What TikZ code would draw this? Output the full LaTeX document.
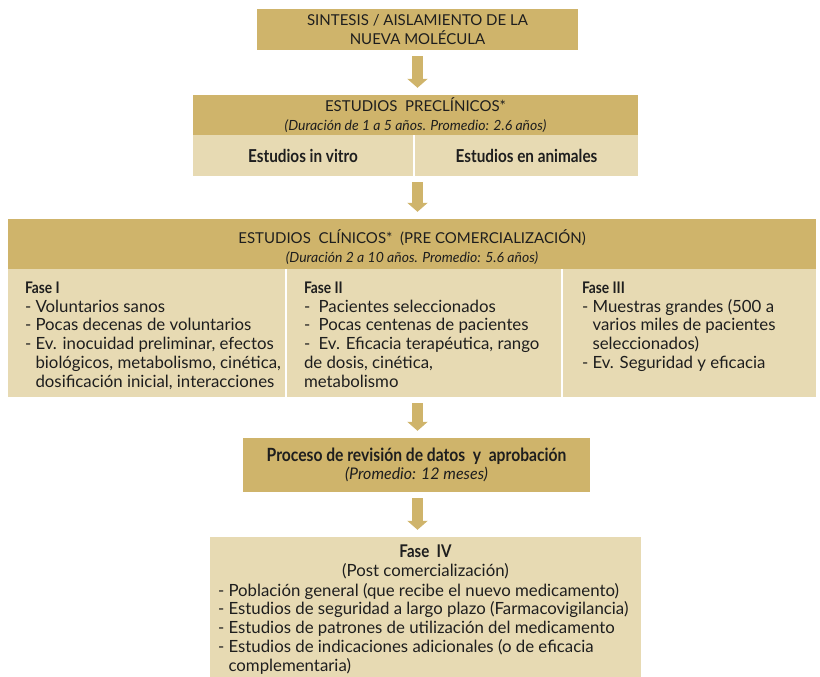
\documentclass[tikz,border=0pt]{standalone}
\usepackage{fontspec}
\setmainfont{Lato}
\newfontfamily\narrowfont[FakeStretch=0.86]{Lato}
\usetikzlibrary{arrows.meta}

\definecolor{gold}{HTML}{CFB46B}
\definecolor{sand}{HTML}{E7DAB3}
\definecolor{ink}{HTML}{1E1E1E}

\newcommand{\bodyfont}{\fontsize{16.8}{18.7}\selectfont}
\newcommand{\capsfont}{\fontsize{15}{18.5}\selectfont}
\newcommand{\smallit}{\fontsize{14}{19}\selectfont\itshape}
\newcommand{\headbf}{\fontsize{16}{18.7}\selectfont\narrowfont\bfseries}

\begin{document}
\begin{tikzpicture}[x=1pt, y=-1pt]
        \tikzstyle{dark}=[fill=gold, text=ink, inner sep=0pt, align=center, font=\capsfont]
        \tikzstyle{light}=[fill=sand, text=ink, inner sep=0pt, align=center]
        \tikzstyle{txt}=[text=ink, inner sep=0pt, align=left, anchor=north west, font=\bodyfont]
        \tikzstyle{down}=[draw=gold, line width=11pt, -{Triangle[width=20pt,length=9pt]}, shorten <=6pt, shorten >=7pt]

        \useasboundingbox (0,0) rectangle (820,677);

        % molecula
        \node[dark, minimum width=321pt, minimum height=41pt] (S_1) at (417.5,29.5) {SINTESIS / AISLAMIENTO DE LA\\NUEVA MOLÉCULA};

        % preclinicos
        \node[dark, minimum width=445pt, minimum height=40pt] (P_head) at (415.5,115) {ESTUDIOS~~PRECLÍNICOS*\\\smallit (Duración de 1 a 5 años. Promedio: 2.6 años)};
        \node[light, minimum width=220pt, minimum height=41pt, font=\headbf\fontsize{17.8}{20}\selectfont] (P_vitro) at (303,155.5) {Estudios in vitro};
        \node[light, minimum width=223pt, minimum height=41pt, font=\headbf\fontsize{17.8}{20}\selectfont] (P_anim) at (526.5,155.5) {Estudios en animales};

        % clinicos
        \node[dark, minimum width=808pt, minimum height=50pt] (C_head) at (412,244) {\rule{0pt}{20pt}ESTUDIOS~~CLÍNICOS*~~(PRE COMERCIALIZACIÓN)\\\smallit (Duración 2 a 10 años. Promedio: 5.6 años)};
        \node[light, minimum width=277pt, minimum height=128pt] (C_f1) at (146.5,333) {};
        \node[light, minimum width=274pt, minimum height=128pt] (C_f2) at (424,333) {};
        \node[light, minimum width=253pt, minimum height=128pt] (C_f3) at (689.5,333) {};
        \node[txt] (C_t1) at ([xshift=17pt,yshift=-13pt]C_f1.north west) {{\headbf Fase I}\\- Voluntarios sanos\\- Pocas decenas de voluntarios\\- Ev. inocuidad preliminar, efectos\\\phantom{- }biológicos, metabolismo, cinética,\\\phantom{- }dosificación inicial, interacciones};
        \node[txt] (C_t2) at ([xshift=17pt,yshift=-13pt]C_f2.north west) {{\headbf Fase II}\\-\enspace Pacientes seleccionados\\-\enspace Pocas centenas de pacientes\\-\enspace Ev. Eficacia terapéutica, rango\\de dosis, cinética,\\metabolismo};
        \node[txt] (C_t3) at ([xshift=19pt,yshift=-13pt]C_f3.north west) {{\headbf Fase III}\\- Muestras grandes (500 a\\\phantom{- }varios miles de pacientes\\\phantom{- }seleccionados)\\- Ev. Seguridad y eficacia};

        % revision
        \node[dark, minimum width=347pt, minimum height=54pt] (R_1) at (416.5,465) {\headbf\fontsize{18.2}{18.6}\selectfont Proceso de revisión de datos~~y~~aprobación\\\fontsize{16}{24}\selectfont\itshape (Promedio: 12 meses)};

        % fase IV
        \node[light, minimum width=431pt, minimum height=140pt] (F_4) at (425.5,607) {};
        \node[text=ink, inner sep=0pt, align=center, anchor=north, font=\bodyfont] (F_title) at ([yshift=-8pt]F_4.north) {{\headbf\fontsize{17.5}{18.7}\selectfont Fase~~IV}\\(Post comercialización)};
        \node[txt, font=\fontsize{16.8}{18.9}\selectfont] (F_list) at ([xshift=8pt,yshift=-46pt]F_4.north west) {- Población general (que recibe el nuevo medicamento)\\- Estudios de seguridad a largo plazo (Farmacovigilancia)\\- Estudios de patrones de utilización del medicamento\\- Estudios de indicaciones adicionales (o de eficacia\\\phantom{- }complementaria)};

        % flechas
        \draw[down] (S_1.south) -- (S_1.south |- P_head.north);
        \draw[down] (S_1.south |- P_anim.south) -- (S_1.south |- C_head.north);
        \draw[down] (S_1.south |- C_f2.south) -- (S_1.south |- R_1.north);
        \draw[down] (S_1.south |- R_1.south) -- (S_1.south |- F_4.north);
\end{tikzpicture}
\end{document}
